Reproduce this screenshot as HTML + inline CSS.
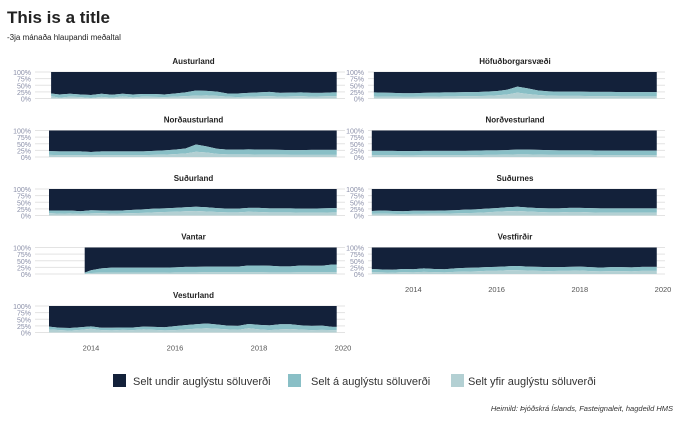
<!DOCTYPE html>
<html><head><meta charset="utf-8"><style>
body{margin:0;background:#fff;font-family:"Liberation Sans",sans-serif}
svg text{font-family:"Liberation Sans",sans-serif}
</style></head><body>
<svg id="chart" width="680" height="420" xmlns="http://www.w3.org/2000/svg">
<text x="7" y="23" font-size="17" font-weight="bold" fill="#222">This is a title</text>
<text x="7" y="40" font-size="8" fill="#222">-3ja mánaða hlaupandi meðaltal</text>
<g id="panels"></g>
<g>
<rect x="113" y="374" width="13" height="13" fill="#13213a"/>
<text x="133" y="385" font-size="11" fill="#333">Selt undir auglýstu söluverði</text>
<rect x="288" y="374" width="13" height="13" fill="#89bfc6"/>
<text x="311" y="385" font-size="11" fill="#333">Selt á auglýstu söluverði</text>
<rect x="451" y="374" width="13" height="13" fill="#b3d0d3"/>
<text x="468" y="385" font-size="11" fill="#333">Selt yfir auglýstu söluverði</text>
</g>
<text x="673" y="411" font-size="7.5" font-style="italic" fill="#333" text-anchor="end">Heimild: Þjóðskrá Íslands, Fasteignaleit, hagdeild HMS</text>
</svg>
<script>
const regions=["Austurland","Höfuðborgarsvæði","Norðausturland","Norðvesturland","Suðurland","Suðurnes","Vantar","Vestfirðir","Vesturland"];
const startYears=[2013.05,2013.05,2013.0,2013.0,2013.0,2013.0,2013.85,2013.0,2013.0];
const yfir=[
[9,3,7,5,2,6,3,8,4,7,6,5,7,9,11,12,10,7,5,7,8,9,7,8,9,7,8,9],
[8,7,7,6,6,7,7,8,8,9,9,10,12,15,22,17,13,11,10,10,10,9,9,9,8,8,8,8],
[8,7,7,7,6,7,7,7,7,7,8,9,11,13,20,17,12,10,10,10,9,9,9,8,8,8,8,8],
[7,7,7,6,6,7,7,7,7,7,7,8,8,9,10,10,9,8,8,8,8,8,7,7,7,7,7,7],
[9,7,8,6,8,9,7,8,9,10,12,13,14,16,17,15,13,12,12,14,13,12,12,12,11,11,11,12],
[6,7,6,5,6,6,7,7,8,9,10,12,14,16,17,15,13,12,12,13,13,12,11,11,11,11,11,11],
[0,0,0,2,4,5,5,5,5,5,5,5,6,6,6,7,7,7,7,7,7,6,6,6,7,7,7,7],
[7,6,5,7,6,8,7,6,8,9,10,12,12,14,14,13,12,11,12,12,13,11,10,11,11,10,12,12],
[12,9,7,10,14,9,8,10,9,12,10,8,9,12,14,16,14,12,10,16,12,9,12,13,11,9,10,9]];
const aVals=[
[10,12,11,10,11,12,11,10,11,10,11,10,12,14,19,17,16,12,14,14,15,16,14,14,14,14,13,14],
[15,15,14,14,14,14,15,15,15,15,15,16,16,18,23,21,17,16,16,16,16,16,16,16,16,16,16,16],
[14,14,14,14,13,14,14,14,14,14,15,16,17,19,27,23,19,18,18,19,19,19,18,18,18,19,19,19],
[16,16,16,16,16,16,16,16,16,16,17,17,17,17,18,18,18,18,17,17,17,17,17,17,17,17,17,17],
[10,12,11,10,12,10,11,11,12,13,14,14,15,15,16,16,15,14,14,15,16,15,15,15,15,15,16,16],
[11,12,11,11,12,12,11,12,12,13,13,14,14,15,16,15,15,15,15,16,16,16,16,16,16,16,16,16],
[0,0,0,3,10,16,19,19,19,19,19,19,19,21,21,21,21,21,21,25,25,25,23,23,25,24,24,29],
[12,11,11,12,12,13,12,12,13,14,14,14,15,15,16,15,15,15,14,15,15,15,14,15,15,15,15,15],
[10,9,10,10,9,9,10,9,10,10,11,12,15,16,17,18,16,14,15,16,17,18,19,18,16,16,16,12]];
const xTicks=[2014,2016,2018,2020];
const yTicks=[0,25,50,75,100];
const C={dark:"#13213a",mid:"#89bfc6",light:"#b3d0d3"};
const ns="http://www.w3.org/2000/svg";
const root=document.getElementById("panels");
function mk(t,a,p){const e=document.createElementNS(ns,t);for(const k in a)e.setAttribute(k,a[k]);(p||root).appendChild(e);return e;}
regions.forEach((name,i)=>{
  const col=i%2,row=Math.floor(i/2);
  const x0=col?373:50,x1=col?657:337,yr0=col?2020-(663-373)/41.6:2020-(343-50)/42;
  const gx0=col?368:35,gx1=col?665:345;
  const top=72+row*58.5,bot=top+26.5;
  const sx=v=>x0+(v-yr0)*(col?41.6:42), sy=v=>bot-(v/100)*(bot-top);
  const g=mk("g",{});
  
  
  const tt=mk("text",{x:(x0+x1)/2,y:top-8,"font-size":8,"font-weight":"bold","text-anchor":"middle",fill:"#222"},g);tt.textContent=name;
  
  
  yTicks.forEach(t=>{
    const l=mk("line",{x1:gx0,x2:gx1,y1:sy(t),y2:sy(t),stroke:"#e3e3e3","stroke-width":1},g);
    
    
    const lb=mk("text",{x:gx0-4,y:sy(t)+3,"font-size":7,fill:"#8a8fa8","text-anchor":"end"},g);lb.textContent=t+"%";
    
    
  });
  const s0=startYears[i],n=yfir[i].length;
  const xs=[];
  for(let k=0;k<n;k++){const xv=2013+k*0.25;if(xv>s0-0.25)xs.push([k,Math.min(Math.max(xv,s0),2019.85)]);}
  xs.push([n-1,2019.85]);
  const pts=xs.map(([k,xv])=>{const a=yfir[i][k],b=aVals[i][k];return [sx(xv),a,a+b];});
  const area=(lo,hi)=>{let d="M"+pts.map(p=>p[0]+","+sy(hi(p))).join("L");d+="L"+pts.slice().reverse().map(p=>p[0]+","+sy(lo(p))).join("L")+"Z";return d;};
  const dk=mk("path",{d:area(p=>p[2],()=>100),fill:C.dark},g);
  
  
  const md=mk("path",{d:area(p=>p[1],p=>p[2]),fill:C.mid},g);
  
  
  const lt=mk("path",{d:area(()=>0,p=>p[1]),fill:C.light},g);
  
  
  if(i>=7){
    xTicks.forEach(t=>{const tx=mk("text",{x:sx(t),y:bot+18,"font-size":7.5,fill:"#555","text-anchor":"middle"},g);tx.textContent=t;
      
      });
  }
});
</script>
</body></html>
